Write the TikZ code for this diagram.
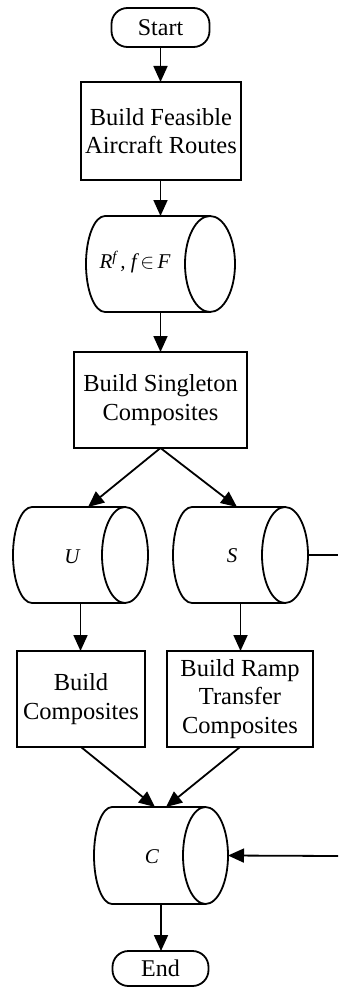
\documentclass[tikz,border=0pt]{standalone}
\usepackage{fontspec}
\setmainfont{Liberation Serif}
\usetikzlibrary{arrows.meta,calc}

% Outline of a horizontal storage drum drawn round an invisible node:
% #1 node name, #2 x radius of the left cap, #3 x radius of the right cap,
% #4 y radius of both caps.
\newcommand\drumoutline[4]{%
  \draw[line] ([xshift=-#3pt]#1.north east) -- ([xshift=#2pt]#1.north west)
    arc[start angle=90, end angle=270, x radius=#2pt, y radius=#4pt]
    -- ([xshift=-#3pt]#1.south east);
  \draw[line] ([xshift=-#3pt]#1.east) ellipse[x radius=#3pt, y radius=#4pt];
}

\begin{document}
\begin{tikzpicture}[x=1pt, y=1pt,
  line/.style={line width=1.8pt},
  flow/.style={line, -{Triangle[length=16pt, width=14pt]}},
  procbox/.style={draw, line width=1.8pt, inner sep=0pt, outer sep=0pt,
    align=center, font=\fontsize{24.5}{28.5}\selectfont},
  termbox/.style={draw, line width=1.8pt, rounded corners=16pt, inner sep=0pt,
    outer sep=0pt, font=\fontsize{24}{28}\selectfont},
  drumbox/.style={inner sep=0pt, outer sep=0pt},
  drumtext/.style={inner sep=0pt, font=\fontsize{21}{24}\selectfont\itshape}
]
\path[use as bounding box, fill=white] (0,0) rectangle (338,-990);

% terminals and process boxes
\node[termbox, minimum width=98pt, minimum height=39pt] (start) at (160.5,-27.5) {Start};
\node[procbox, minimum width=160pt, minimum height=98pt] (feas) at (161,-131)
  {Build Feasible\\Aircraft Routes};
\node[procbox, minimum width=173pt, minimum height=96pt] (single) at (160.5,-400)
  {Build Singleton\\Composites};
\node[procbox, minimum width=128pt, minimum height=96pt] (comp) at (81,-699)
  {Build\\Composites};
\node[procbox, minimum width=146pt, minimum height=96pt] (ramp) at (240,-699)
  {Build Ramp\\Transfer\\Composites};
\node[termbox, minimum width=96pt, minimum height=35pt] (end) at (160.5,-968.5) {End};

% storage drums
\node[drumbox, minimum width=149pt, minimum height=96pt] (R) at (160.5,-264) {};
\node[drumbox, minimum width=135pt, minimum height=96pt] (U) at (80.5,-555) {};
\node[drumbox, minimum width=135pt, minimum height=96pt] (S) at (240.5,-555) {};
\node[drumbox, minimum width=134pt, minimum height=97pt] (C) at (161,-855.5) {};
\drumoutline{R}{19}{25}{48}
\drumoutline{U}{19}{23}{48}
\drumoutline{S}{19}{23}{48}
\drumoutline{C}{18}{22.5}{48.5}

\node[drumtext] (Rl) at (135,-262)
  {R\textsuperscript{f}\,,\ f\,\upshape$\in$\,\itshape F};
\node[drumtext] (Ul) at (72,-557) {U};
\node[drumtext] (Sl) at (232,-556) {S};
\node[drumtext] (Cl) at (152,-857) {C};

% free ends at the right border
\coordinate (sout) at (338,-555);
\coordinate (cin) at (338,-856);

% connectors
\draw[flow] (start.south) -- (start.south |- feas.north);
\draw[flow] (start.south |- feas.south) -- (start.south |- R.north);
\draw[flow] (R.south) -- (R.south |- single.north);
\draw[flow] (single.south) -- ([xshift=7.5pt]U.north);
\draw[flow] (single.south) -- ([xshift=-3.5pt]S.north);
\draw[flow] (U.south) -- (U.south |- comp.north);
\draw[flow] (S.south) -- (S.south |- ramp.north);
\draw[flow] (comp.south) -- ([xshift=-6pt]C.north);
\draw[flow] (ramp.south) -- ([xshift=5pt]C.north);
\draw[line] (S.east) -- (sout);
\draw[flow] (cin) -- (C.east);
\draw[flow] (C.south) -- (C.south |- end.north);
\end{tikzpicture}
\end{document}
